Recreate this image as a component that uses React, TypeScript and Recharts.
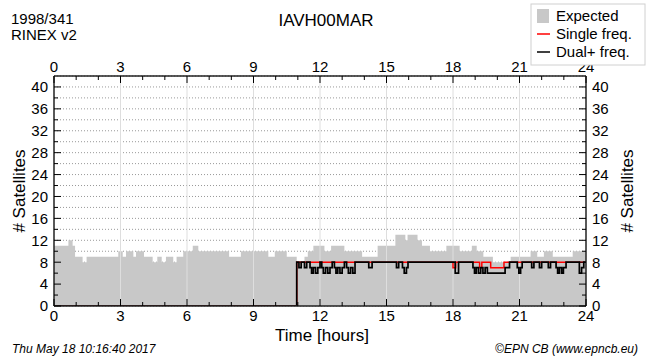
import React from "react";
import {
  ComposedChart,
  Area,
  Line,
  XAxis,
  YAxis,
  CartesianGrid,
  ReferenceLine,
} from "recharts";

// expected number of satellites (step changes, hours of day)
const expectedHours = [
  0, 0.65, 0.84, 0.95, 1.29, 1.47, 2.9, 3.1, 3.25, 3.58, 3.7, 4.06, 4.45, 4.66, 4.86, 5.05, 5.38, 5.53,
  5.83, 6.26, 6.51, 7.9, 8.43, 9.67, 9.96, 10.5, 10.95, 11.3, 11.45, 11.7, 12.2, 12.5, 13.1, 13.9, 14.6,
  15.4, 15.85, 15.95, 16.4, 16.6, 16.96, 17.7, 18.3, 18.85, 19.07, 19.37, 19.8, 20.6, 21.5, 21.8, 22.1,
  22.5, 23.4, 24,
];
const expectedSats = [
  11, 12, 11, 9, 8, 9, 10, 9, 10, 9, 10, 9, 8, 9, 8, 9, 8, 9, 10, 11, 10, 9, 10, 9, 10, 9, 8, 9, 10, 11,
  10, 11, 10, 9, 11, 13, 12, 13, 12, 11, 10, 11, 10, 11, 10, 9, 8, 9, 10, 9, 10, 9, 10, 10,
];

// single frequency observations
const singleHours = [0, 10.95, 18.0, 18.12, 19.2, 19.3, 19.7, 20.3, 24];
const singleSats = [0, 8, 7, 8, 7, 8, 7, 8, 8];

// dual+ frequency observations
const dualHours = [
  0, 10.95, 11.05, 11.15, 11.3, 11.4, 11.55, 11.62, 11.7, 11.8, 11.9, 12.0, 12.08, 12.15, 12.25, 12.35,
  12.45, 12.55, 12.65, 12.72, 12.8, 12.9, 13.0, 13.1, 13.2, 13.28, 13.38, 13.48, 13.58, 14.2, 14.35,
  15.45, 15.55, 15.72, 15.8, 15.9, 15.97, 18.1, 18.25, 18.9, 18.97, 19.05, 19.15, 19.25, 19.35, 19.45,
  19.55, 20.35, 20.55, 20.9, 20.97, 21.05, 21.12, 21.55, 21.65, 21.9, 22.0, 22.3, 22.4, 22.65, 22.72,
  22.8, 22.9, 22.98, 23.1, 23.7, 23.8, 23.9, 24,
];
const dualSats = [
  0, 8, 7, 8, 7, 8, 7, 6, 7, 6, 7, 8, 7, 6, 7, 6,
  7, 8, 7, 6, 7, 6, 7, 8, 7, 6, 7, 6, 8, 7, 8,
  7, 8, 7, 6, 7, 8, 6, 8, 7, 6, 7, 6, 7, 6, 7,
  6, 7, 8, 7, 6, 7, 8, 7, 8, 7, 8, 7, 8, 7, 6,
  7, 6, 7, 8, 6, 7, 8, 8,
];

const hourTicks = [0, 1, 2, 3, 4, 5, 6, 7, 8, 9, 10, 11, 12, 13, 14, 15, 16, 17, 18, 19, 20, 21, 22, 23, 24];
const satTicks = [0, 2, 4, 6, 8, 10, 12, 14, 16, 18, 20, 22, 24, 26, 28, 30, 32, 34, 36, 38, 40];
const gridHours = [3, 6, 9, 12, 15, 18, 21];

const FONT = "'Liberation Sans', Arial, Helvetica, sans-serif";

function stepAt(hours: number[], sats: number[], t: number) {
  let v = sats[0];
  for (let i = 0; i < hours.length; i++) if (hours[i] <= t) v = sats[i];
  return v;
}

const allHours = Array.from(new Set([...expectedHours, ...singleHours, ...dualHours])).sort((a, b) => a - b);
const data = allHours.map((t) => ({
  t,
  expected: stepAt(expectedHours, expectedSats, t),
  single: stepAt(singleHours, singleSats, t),
  dual: stepAt(dualHours, dualSats, t),
}));

const BottomTick = ({ x, y, payload }: any) => {
  const major = payload.value % 3 === 0;
  return (
    <g>
      <line x1={x} x2={x} y1={y} y2={y - (major ? 7 : 4)} stroke="#000" />
      {major && (
        <text x={x} y={y + 15} textAnchor="middle" fontSize={15} fontFamily={FONT} fill="#000">
          {payload.value}
        </text>
      )}
    </g>
  );
};

const TopTick = ({ x, y, payload }: any) => {
  const major = payload.value % 3 === 0;
  return (
    <g>
      <line x1={x} x2={x} y1={y} y2={y + (major ? 7 : 4)} stroke="#000" />
      {major && (
        <text x={x} y={y - 4} textAnchor="middle" fontSize={15} fontFamily={FONT} fill="#000">
          {payload.value}
        </text>
      )}
    </g>
  );
};

const LeftTick = ({ x, y, payload }: any) => {
  const major = payload.value % 4 === 0;
  return (
    <g>
      <line x1={x} x2={x + (major ? 7 : 4)} y1={y} y2={y} stroke="#000" />
      {major && (
        <text x={x - 6} y={y} dy="0.36em" textAnchor="end" fontSize={15} fontFamily={FONT} fill="#000">
          {payload.value}
        </text>
      )}
    </g>
  );
};

const RightTick = ({ x, y, payload }: any) => {
  const major = payload.value % 4 === 0;
  return (
    <g>
      <line x1={x} x2={x - (major ? 7 : 4)} y1={y} y2={y} stroke="#000" />
      {major && (
        <text x={x + 6} y={y} dy="0.36em" textAnchor="start" fontSize={15} fontFamily={FONT} fill="#000">
          {payload.value}
        </text>
      )}
    </g>
  );
};

export default function App() {
  return (
    <div style={{ position: "absolute", left: 0, top: 0, width: 650, height: 362, background: "#fff" }}>
      <ComposedChart
        width={650}
        height={362}
        data={data}
        margin={{ top: 46, right: 24, bottom: 26, left: 14 }}
      >
        <CartesianGrid vertical={false} stroke="#999" strokeDasharray="1 2" />
        <XAxis
          type="number"
          dataKey="t"
          domain={[0, 24]}
          ticks={hourTicks}
          interval={0}
          allowDataOverflow
          height={30}
          tickSize={0}
          tickMargin={0}
          tickLine={false}
          axisLine={{ stroke: "#222", strokeWidth: 1.5 }}
          tick={<BottomTick />}
        />
        <XAxis
          xAxisId="top"
          orientation="top"
          type="number"
          dataKey="t"
          domain={[0, 24]}
          ticks={hourTicks}
          interval={0}
          allowDataOverflow
          height={30}
          tickSize={0}
          tickMargin={0}
          tickLine={false}
          axisLine={{ stroke: "#222", strokeWidth: 1.5 }}
          tick={<TopTick />}
        />
        <YAxis
          type="number"
          domain={[0, 42]}
          ticks={satTicks}
          interval={0}
          allowDataOverflow
          width={40}
          tickSize={0}
          tickMargin={0}
          tickLine={false}
          axisLine={{ stroke: "#222", strokeWidth: 1.5 }}
          tick={<LeftTick />}
        />
        <YAxis
          yAxisId="right"
          orientation="right"
          type="number"
          domain={[0, 42]}
          ticks={satTicks}
          interval={0}
          allowDataOverflow
          width={40}
          tickSize={0}
          tickMargin={0}
          tickLine={false}
          axisLine={{ stroke: "#222", strokeWidth: 1.5 }}
          tick={<RightTick />}
        />
        <Area
          type="stepAfter"
          dataKey="expected"
          fill="#c8c8c8"
          fillOpacity={1}
          stroke="none"
          isAnimationActive={false}
        />
        {gridHours.map((h) => (
          <ReferenceLine key={h} x={h} stroke="#dedede" strokeWidth={1} />
        ))}
        <Line
          type="stepAfter"
          dataKey="single"
          xAxisId="top"
          yAxisId="right"
          stroke="#ff0000"
          strokeWidth={1.5}
          dot={false}
          isAnimationActive={false}
        />
        <Line
          type="stepAfter"
          dataKey="dual"
          stroke="#000"
          strokeWidth={1.7}
          dot={false}
          isAnimationActive={false}
        />
      </ComposedChart>

      <svg
        width={650}
        height={362}
        style={{ position: "absolute", left: 0, top: 0, pointerEvents: "none" }}
        fontFamily={FONT}
      >
        <text x={11} y={24} fontSize={15}>1998/341</text>
        <text x={11} y={40} fontSize={15}>RINEX v2</text>
        <text x={326} y={26} fontSize={17} textAnchor="middle">IAVH00MAR</text>

        <rect x={531} y={4} width={114} height={61} fill="#fff" stroke="#d0d0d0" />
        <rect x={537} y={9} width={12} height={14} fill="#c8c8c8" />
        <text x={556} y={21} fontSize={15}>Expected</text>
        <line x1={537} x2={550} y1={34} y2={34} stroke="#ff0000" strokeWidth={1.5} />
        <text x={556} y={39} fontSize={15}>Single freq.</text>
        <line x1={537} x2={550} y1={52} y2={52} stroke="#000" strokeWidth={1.5} />
        <text x={556} y={57} fontSize={15}>Dual+ freq.</text>

        <text x={322} y={341} fontSize={17} textAnchor="middle">Time [hours]</text>
        <text
          x={0}
          y={0}
          fontSize={17}
          textAnchor="middle"
          transform="translate(25,191) rotate(-90)"
        >
          # Satellites
        </text>
        <text
          x={0}
          y={0}
          fontSize={17}
          textAnchor="middle"
          transform="translate(633,191) rotate(-90)"
        >
          # Satellites
        </text>

        <text x={12} y={353} fontSize={12} fontStyle="italic">Thu May 18 10:16:40 2017</text>
        <text x={638} y={353} fontSize={12} fontStyle="italic" textAnchor="end">
          ©EPN CB (www.epncb.eu)
        </text>
      </svg>
    </div>
  );
}
